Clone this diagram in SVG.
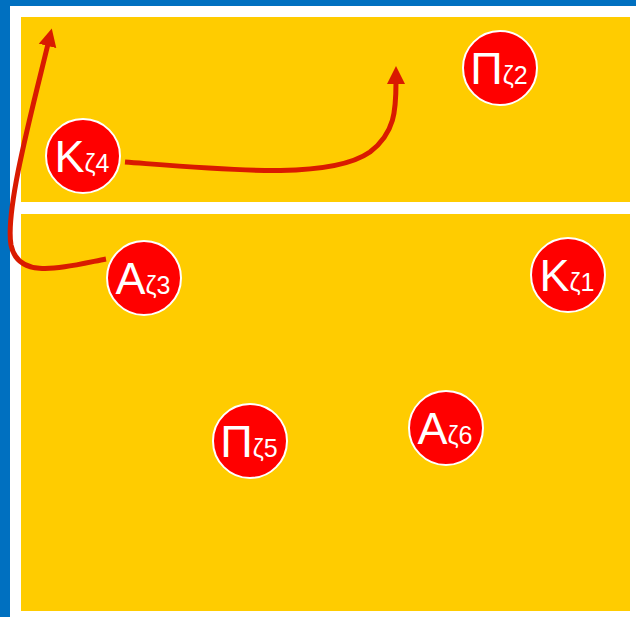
<svg xmlns="http://www.w3.org/2000/svg" width="636" height="617" viewBox="0 0 636 617">
<style>
.node circle{fill:#ff0000;stroke:#ffffff;stroke-width:2}
.big{font-family:"Liberation Sans",Arial,sans-serif;font-size:45px;fill:#ffffff}
.sub{font-size:25px}
.conn path{fill:none;stroke:#d91a00;stroke-width:5}
</style>
<defs>
<marker id="ah" markerUnits="userSpaceOnUse" markerWidth="20" markerHeight="20" refX="2" refY="9" orient="auto" viewBox="0 0 20 18">
<path d="M0,0 L18,9 L0,18 Z" fill="#d91a00"/>
</marker>
</defs>
<rect x="0" y="0" width="636" height="617" fill="#ffffff"/>
<rect x="0" y="0" width="636" height="6" fill="#0070c0"/>
<rect x="0" y="0" width="10" height="617" fill="#0070c0"/>
<rect id="lane-top" x="21" y="17" width="609" height="185" fill="#ffcc00"/>
<rect id="lane-bottom" x="21" y="214" width="609" height="397" fill="#ffcc00"/>
<g class="conn">
<path d="M106,259 C 60,268 18,280 11,245 C 5,210 32,110 48,44" marker-end="url(#ah)"/>
<path d="M125,162 C 230,170 330,180 370,152 C 395,133 396,110 396,82" marker-end="url(#ah)"/>
</g>
<g id="K4" class="node"><circle cx="83" cy="156" r="37"/><text class="big" x="82" y="172" text-anchor="middle">K<tspan class="sub">ζ4</tspan></text></g>
<g id="P2" class="node"><circle cx="500" cy="68" r="37"/><text class="big" x="499" y="84" text-anchor="middle">Π<tspan class="sub">ζ2</tspan></text></g>
<g id="A3" class="node"><circle cx="144" cy="278" r="37"/><text class="big" x="143" y="294" text-anchor="middle">A<tspan class="sub">ζ3</tspan></text></g>
<g id="K1" class="node"><circle cx="568" cy="275" r="37"/><text class="big" x="567" y="291" text-anchor="middle">K<tspan class="sub">ζ1</tspan></text></g>
<g id="P5" class="node"><circle cx="250" cy="441" r="37"/><text class="big" x="249" y="457" text-anchor="middle">Π<tspan class="sub">ζ5</tspan></text></g>
<g id="A6" class="node"><circle cx="446" cy="428" r="37"/><text class="big" x="445" y="444" text-anchor="middle">A<tspan class="sub">ζ6</tspan></text></g>
</svg>
